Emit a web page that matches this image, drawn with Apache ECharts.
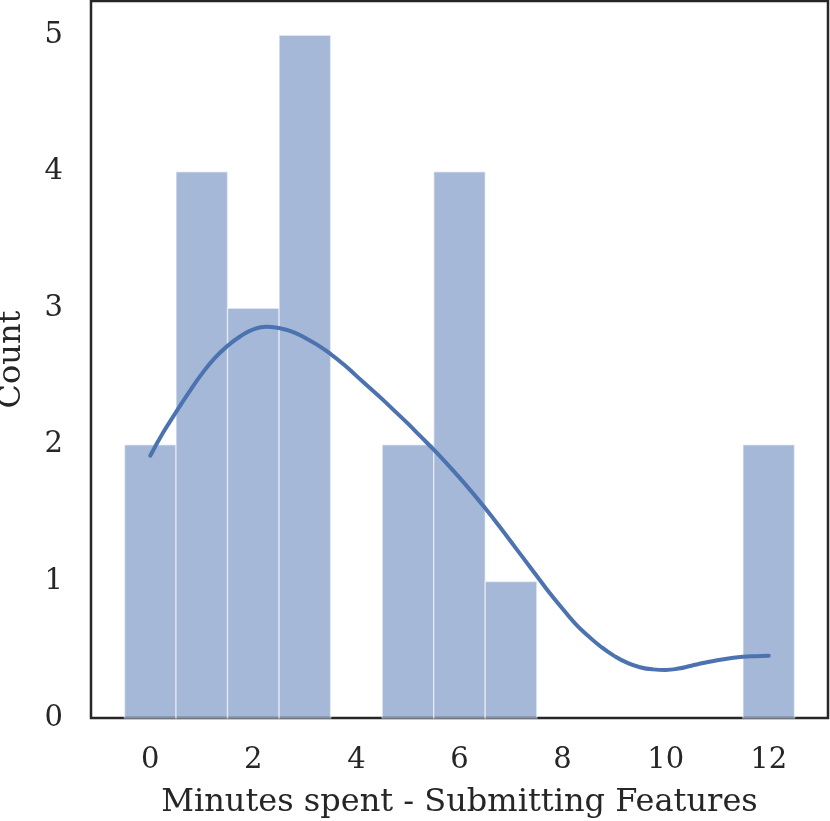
<!DOCTYPE html>
<html>
<head>
<meta charset="utf-8">
<script src="https://cdn.jsdelivr.net/npm/echarts@6/dist/echarts.min.js"></script>
<style>
  html, body { margin: 0; padding: 0; background: #fff; }
  #chart { width: 830px; height: 821px; }
</style>
</head>
<body>
<div id="chart"></div>
<script>
// histogram bins (centre of each 1-minute bin) and counts
const binCenters = [0, 1, 2, 3, 4, 5, 6, 7, 8, 9, 10, 11, 12];
const binCounts = [2, 4, 3, 5, 0, 2, 4, 1, 0, 0, 0, 0, 2];

// kde curve, every quarter minute
const kdeX = [0, 0.25, 0.5, 0.75, 1, 1.25, 1.5, 1.75, 2, 2.25, 2.5, 2.75,
  3, 3.25, 3.5, 3.75, 4, 4.25, 4.5, 4.75, 5, 5.25, 5.5, 5.75,
  6, 6.25, 6.5, 6.75, 7, 7.25, 7.5, 7.75, 8, 8.25, 8.5, 8.75,
  9, 9.25, 9.5, 9.75, 10, 10.25, 10.5, 10.75, 11, 11.25, 11.5, 11.75, 12];
const kdeY = [1.92, 2.09, 2.24, 2.385, 2.52, 2.635, 2.725, 2.795, 2.845, 2.865, 2.855, 2.83,
  2.785, 2.73, 2.665, 2.59, 2.505, 2.42, 2.335, 2.245, 2.155, 2.06, 1.965, 1.865,
  1.76, 1.65, 1.535, 1.415, 1.29, 1.165, 1.04, 0.915, 0.80, 0.69, 0.60, 0.52,
  0.455, 0.405, 0.372, 0.356, 0.352, 0.362, 0.383, 0.404, 0.423, 0.438, 0.449, 0.453, 0.455];

const xTicks = [0, 2, 4, 6, 8, 10, 12];
const yTicks = [0, 1, 2, 3, 4, 5];

const font = 'DejaVu Serif';
const ink = '#262626';

const chart = echarts.init(document.getElementById('chart'), null, { renderer: 'canvas' });

const option = {
  backgroundColor: '#ffffff',
  animation: false,
  grid: {
    left: 91, right: 2, top: 1, bottom: 103,
    outerBoundsMode: 'none',
    containLabel: false,
    show: true,
    borderColor: ink,
    borderWidth: 2.5,
    backgroundColor: 'transparent'
  },
  xAxis: {
    type: 'value',
    min: -1.15,
    max: 13.15,
    name: 'Minutes spent - Submitting Features',
    nameLocation: 'middle',
    nameGap: 69,
    nameTextStyle: { fontFamily: font, fontSize: 32, color: ink },
    axisLine: { show: false },
    axisTick: { show: false },
    splitLine: { show: false },
    axisLabel: {
      customValues: xTicks,
      margin: 28,
      fontFamily: font,
      fontSize: 29,
      color: ink
    }
  },
  yAxis: {
    type: 'value',
    min: 0,
    max: 5.25,
    name: 'Count',
    nameLocation: 'middle',
    nameGap: 63,
    nameTextStyle: { fontFamily: font, fontSize: 32, color: ink },
    axisLine: { show: false },
    axisTick: { show: false },
    splitLine: { show: false },
    axisLabel: {
      customValues: yTicks,
      margin: 28,
      fontFamily: font,
      fontSize: 29,
      color: ink
    }
  },
  series: [
    {
      type: 'custom',
      data: binCenters.map((x, i) => [x, binCounts[i]]),
      renderItem: function (params, api) {
        const x = api.value(0);
        const c = api.value(1);
        if (!c) return null;
        const p0 = api.coord([x - 0.5, c]);
        const p1 = api.coord([x + 0.5, 0]);
        return {
          type: 'rect',
          shape: { x: p0[0], y: p0[1], width: p1[0] - p0[0], height: p1[1] - p0[1] },
          style: { fill: '#4c72b0', stroke: '#ffffff', lineWidth: 1.5, opacity: 0.5 }
        };
      },
      z: 2
    },
    {
      type: 'line',
      data: kdeX.map((x, i) => [x, kdeY[i]]),
      smooth: 0.5,
      showSymbol: false,
      lineStyle: { color: '#4c72b0', width: 4, cap: 'round' },
      z: 3
    }
  ]
};

chart.setOption(option);
</script>
</body>
</html>
